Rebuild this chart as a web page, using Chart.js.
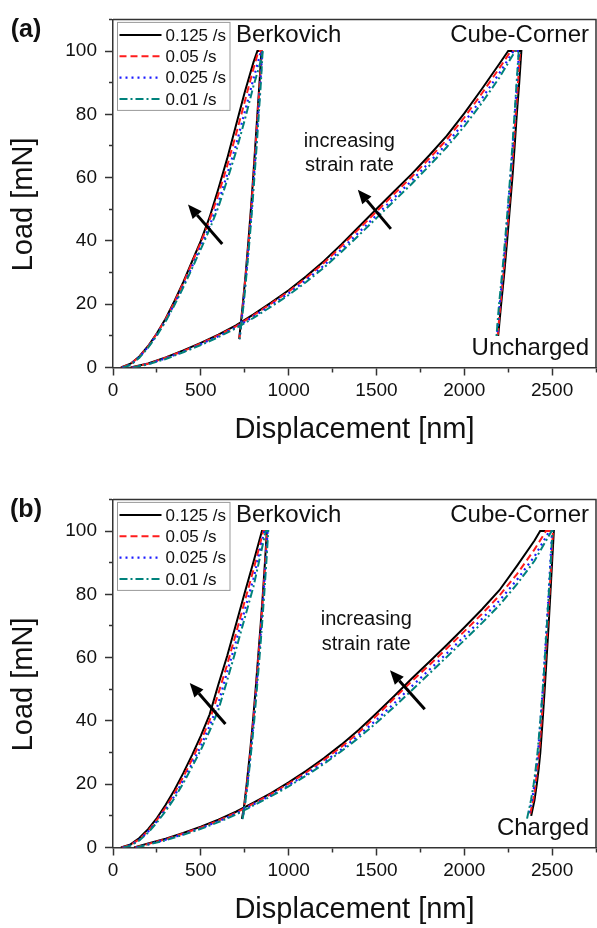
<!DOCTYPE html>
<html>
<head>
<meta charset="utf-8">
<script src="https://cdn.jsdelivr.net/npm/chart.js@4.4.1/dist/chart.umd.min.js"></script>
<style>
  html, body { margin: 0; padding: 0; background: #fff; overflow: hidden; }
  #wrap { position: relative; width: 597px; height: 928px; overflow: hidden; }
  canvas { position: absolute; left: 0; }
  #chartA { top: 0; }
  #chartB { top: 480px; }
</style>
</head>
<body>
<div id="wrap">
  <canvas id="chartA" width="600" height="480"></canvas>
  <canvas id="chartB" width="600" height="448"></canvas>
</div>
<script>
// strain rates (legend entries)
const rates = ['0.125 /s', '0.05 /s', '0.025 /s', '0.01 /s'];
const xTicks = [0, 500, 1000, 1500, 2000, 2500];
const yTicks = [0, 20, 40, 60, 80, 100];

// (a) uncharged - Berkovich [displacement nm, load mN]
const aBerk125 = [[45,0],[100,1.2],[150,3.5],[200,6.8],[250,10.8],[300,15.5],[350,21],[400,27],[450,33.5],[500,40],[550,47.5],[600,56.5],[650,66],[700,76.5],[750,87],[800,96.5],[822,100],[845,100],[834,90],[822,80],[810,70],[798,60],[785,50],[771,40],[756,30],[739,20],[726,13],[718,9]];
const aBerk05 = [[48,0],[100,1.1],[150,3.4],[200,6.7],[250,10.7],[300,15.3],[350,20.7],[400,26.6],[450,33.1],[500,39.5],[550,46.6],[600,54.7],[650,63.7],[700,73.6],[750,84],[800,94.5],[828,100],[847,100],[836,90],[824,80],[812,70],[800,60],[787,50],[773,40],[757,30],[740,20],[727,13],[719,9]];
const aBerk025 = [[52,0],[100,0.9],[150,3.3],[200,6.5],[250,10.4],[300,14.8],[350,20.1],[400,25.8],[450,31.9],[500,38.2],[550,44.8],[600,52.2],[650,61],[700,70.2],[750,80.7],[800,91.3],[843,100],[850,100],[839,90],[827,80],[815,70],[802,60],[789,50],[775,40],[759,30],[742,20],[728,13],[720,9]];
const aBerk01 = [[56,0],[100,0.8],[150,3.1],[200,6.3],[250,10.1],[300,14.6],[350,19.7],[400,25.3],[450,31.3],[500,37.4],[550,43.7],[600,50.7],[650,59.2],[700,68.1],[750,78.2],[800,89],[840,96.5],[852,100],[842,90],[830,80],[818,70],[805,60],[792,50],[777,40],[761,30],[744,20],[729,13],[721,9]];

// (a) uncharged - Cube-Corner
const aCube125 = [[100,0],[200,1.3],[300,3.2],[400,5.4],[500,7.8],[600,10.4],[700,13.3],[800,16.8],[900,20.5],[1000,24.4],[1100,28.8],[1200,33.6],[1300,38.9],[1400,44.5],[1500,50.1],[1600,55.6],[1700,61.1],[1800,67],[1900,73.2],[2000,80.3],[2100,88],[2200,96],[2250,100],[2325,100],[2313,90],[2299,80],[2287,70],[2274,60],[2259,50],[2244,40],[2228,30],[2210,20],[2193,10]];
const aCube05 = [[105,0],[200,1.2],[300,3.1],[400,5.2],[500,7.6],[600,10.2],[700,13],[800,16.5],[900,20.2],[1000,24],[1100,28.3],[1200,33],[1300,38.3],[1400,43.8],[1500,49.3],[1600,54.8],[1700,60.2],[1800,66],[1900,72],[2000,79],[2100,86.6],[2200,94.6],[2265,100],[2318,100],[2306,90],[2293,80],[2281,70],[2268,60],[2254,50],[2239,40],[2223,30],[2206,20],[2190,10]];
const aCube025 = [[110,0],[200,1.1],[300,2.9],[400,5],[500,7.4],[600,9.9],[700,12.7],[800,16.1],[900,19.7],[1000,23.4],[1100,27.6],[1200,32.2],[1300,37.3],[1400,42.7],[1500,48.1],[1600,53.6],[1700,59],[1800,64.8],[1900,70.7],[2000,77.5],[2100,85],[2200,93],[2280,100],[2312,100],[2300,90],[2288,80],[2276,70],[2263,60],[2249,50],[2235,40],[2219,30],[2202,20],[2186,10]];
const aCube01 = [[115,0],[200,1],[300,2.7],[400,4.8],[500,7.1],[600,9.6],[700,12.4],[800,15.7],[900,19.2],[1000,22.9],[1100,27],[1200,31.5],[1300,36.5],[1400,41.8],[1500,47.2],[1600,52.6],[1700,58],[1800,63.7],[1900,69.6],[2000,76.2],[2100,83.6],[2200,91.6],[2290,100],[2310,100],[2298,90],[2286,80],[2274,70],[2261,60],[2247,50],[2232,40],[2216,30],[2198,20],[2182,9]];

// (b) charged - Berkovich
const bBerk125 = [[45,0],[100,1],[150,3],[200,5.8],[250,9.3],[300,13.5],[350,18.2],[400,23.5],[450,29.2],[500,35.3],[550,42],[600,51.5],[650,60.5],[700,70.5],[750,80.5],[800,90.3],[848,100],[876,100],[865,90],[853,80],[840,70],[826,60],[812,50],[797,40],[780,30],[761,20],[746,13],[734,9]];
const bBerk05 = [[50,0],[100,0.8],[150,2.6],[200,5.3],[250,8.7],[300,12.7],[350,17.2],[400,22.3],[450,27.8],[500,33.7],[550,40.2],[600,48.7],[650,57.8],[700,67.6],[750,77.8],[800,87.8],[856,100],[878,100],[867,90],[855,80],[842,70],[828,60],[814,50],[799,40],[782,30],[763,20],[748,13],[736,9]];
const bBerk025 = [[55,0],[100,0.7],[150,2.4],[200,5],[250,8.3],[300,12],[350,16.3],[400,21.2],[450,26.5],[500,32],[550,38.4],[600,45.5],[650,55.5],[700,65],[750,75],[800,85],[862,100],[880,100],[869,90],[857,80],[844,70],[830,60],[816,50],[801,40],[784,30],[765,20],[749,13],[737,9]];
const bBerk01 = [[60,0],[100,0.6],[150,2.2],[200,4.7],[250,7.9],[300,11.5],[350,15.6],[400,20.3],[450,25.5],[500,30.8],[550,36.8],[600,43.5],[650,52.8],[700,62.5],[750,72.5],[800,82.5],[870,100],[884,100],[873,90],[861,80],[848,70],[834,60],[819,50],[804,40],[786,30],[767,20],[750,13],[738,9]];

// (b) charged - Cube-Corner
const bCube125 = [[120,0],[200,1.3],[300,2.8],[400,4.6],[500,6.6],[600,8.8],[700,11.3],[800,14.2],[900,17.2],[1000,20.6],[1100,24.2],[1200,28.2],[1300,32.5],[1400,37.2],[1500,42.4],[1600,47.8],[1700,53.3],[1800,58.6],[1900,64],[2000,69.5],[2100,75.2],[2200,81.3],[2300,89],[2400,97],[2432,100],[2510,100],[2500,90],[2490,80],[2480,70],[2469,60],[2458,50],[2446,40],[2433,30],[2424,25],[2413,20],[2400,15],[2381,10]];
const bCube05 = [[125,0],[200,1.1],[300,2.6],[400,4.4],[500,6.3],[600,8.5],[700,11],[800,13.9],[900,16.9],[1000,20.2],[1100,23.7],[1200,27.6],[1300,31.8],[1400,36.4],[1500,41.6],[1600,47.1],[1700,52.5],[1800,57.6],[1900,62.9],[2000,68.3],[2100,73.8],[2200,79.6],[2300,86.4],[2400,94.2],[2465,100],[2505,100],[2495,90],[2485,80],[2474,70],[2463,60],[2452,50],[2440,40],[2426,30],[2417,25],[2406,20],[2393,15],[2373,10]];
const bCube025 = [[130,0],[200,1],[300,2.5],[400,4.2],[500,6.1],[600,8.3],[700,10.7],[800,13.6],[900,16.5],[1000,19.7],[1100,23.1],[1200,26.9],[1300,31],[1400,35.5],[1500,40.3],[1600,45.5],[1700,50.9],[1800,56.1],[1900,61.3],[2000,66.7],[2100,72.2],[2200,78],[2300,84.6],[2400,92],[2485,100],[2500,100],[2490,90],[2480,80],[2469,70],[2458,60],[2447,50],[2434,40],[2420,30],[2411,25],[2400,20],[2386,15],[2365,10]];
const bCube01 = [[135,0],[200,0.9],[300,2.3],[400,4],[500,5.9],[600,8],[700,10.4],[800,13.3],[900,16.2],[1000,19.3],[1100,22.7],[1200,26.4],[1300,30.4],[1400,34.7],[1500,39.4],[1600,44.4],[1700,49.6],[1800,54.9],[1900,60.2],[2000,65.5],[2100,70.9],[2200,76.6],[2300,83.2],[2400,90.6],[2497,100],[2502,100],[2492,90],[2481,80],[2470,70],[2459,60],[2447,50],[2433,40],[2417,30],[2407,25],[2395,20],[2380,15],[2357,9]];

const FONT = "'Liberation Sans', Arial, Helvetica, sans-serif";

// line style for each strain rate
const styles = [
    { color: '#000000', dash: [], width: 2 },
    { color: '#ff1c1c', dash: [7, 4], width: 2 },
    { color: '#1c1cff', dash: [2, 4], width: 2.2 },
    { color: '#00827c', dash: [8, 3, 2, 3], width: 2 }
];

Chart.defaults.font.family = FONT;
Chart.defaults.color = '#111';

function buildDatasets(berk, cube) {
    const sets = [];
    rates.forEach((rate, i) => {
        [berk[i], cube[i]].forEach(curve => {
            sets.push({
                label: rate,
                data: curve,
                showLine: true,
                borderColor: styles[i].color,
                borderDash: styles[i].dash,
                borderWidth: styles[i].width,
                pointRadius: 0,
                fill: false,
                tension: 0,
                order: 4 - i
            });
        });
    });
    return sets;
}

function drawArrow(ctx, x0, y0, x1, y1) {
    const ang = Math.atan2(y1 - y0, x1 - x0);
    const len = 14, half = 6;
    const bx = x1 - len * Math.cos(ang), by = y1 - len * Math.sin(ang);
    ctx.lineWidth = 3;
    ctx.beginPath();
    ctx.moveTo(x0, y0);
    ctx.lineTo(bx, by);
    ctx.stroke();
    ctx.beginPath();
    ctx.moveTo(x1, y1);
    ctx.lineTo(bx + half * Math.sin(ang), by - half * Math.cos(ang));
    ctx.lineTo(bx - half * Math.sin(ang), by + half * Math.cos(ang));
    ctx.closePath();
    ctx.fill();
}

// frame, legend, labels and arrows on top of the plot
function makeDecor(panel) {
    return {
        id: 'decor',
        afterDraw(chart) {
            const { ctx, chartArea: a, scales: { x, y } } = chart;
            ctx.save();

            // top / right frame
            ctx.strokeStyle = '#333';
            ctx.lineWidth = 1.5;
            ctx.beginPath();
            ctx.moveTo(a.left, a.top);
            ctx.lineTo(a.right, a.top);
            ctx.lineTo(a.right, a.bottom);
            ctx.stroke();

            // legend box
            const lx = a.left + 4.5, ly = a.top + 3;
            ctx.fillStyle = '#fff';
            ctx.fillRect(lx, ly, 112.5, 88);
            ctx.strokeStyle = '#999';
            ctx.lineWidth = 1;
            ctx.strokeRect(lx, ly, 112.5, 88);
            ctx.font = '17px ' + FONT;
            ctx.textAlign = 'left';
            ctx.textBaseline = 'middle';
            rates.forEach((rate, i) => {
                const ry = ly + 12.5 + i * 21.4;
                ctx.strokeStyle = styles[i].color;
                ctx.lineWidth = styles[i].width;
                ctx.setLineDash(styles[i].dash);
                ctx.beginPath();
                ctx.moveTo(lx + 2, ry);
                ctx.lineTo(lx + 44, ry);
                ctx.stroke();
                ctx.setLineDash([]);
                ctx.fillStyle = '#111';
                ctx.fillText(rate, lx + 48, ry + 1);
            });

            // indenter names and sample state
            ctx.fillStyle = '#111';
            ctx.font = '24px ' + FONT;
            ctx.textAlign = 'left';
            ctx.fillText('Berkovich', x.getPixelForValue(700), y.getPixelForValue(105));
            ctx.textAlign = 'right';
            ctx.fillText('Cube-Corner', x.getPixelForValue(2710), y.getPixelForValue(105));
            ctx.fillText(panel.sample, x.getPixelForValue(2710), y.getPixelForValue(6.2));

            ctx.font = '20px ' + FONT;
            ctx.textAlign = 'center';
            ctx.fillText('increasing', x.getPixelForValue(panel.incX), y.getPixelForValue(panel.incY[0]));
            ctx.fillText('strain rate', x.getPixelForValue(panel.incX), y.getPixelForValue(panel.incY[1]));

            // arrows
            ctx.strokeStyle = '#000';
            ctx.fillStyle = '#000';
            panel.arrows.forEach(ar => {
                drawArrow(ctx, x.getPixelForValue(ar[0]), y.getPixelForValue(ar[1]),
                    x.getPixelForValue(ar[2]), y.getPixelForValue(ar[3]));
            });

            // axis titles
            ctx.fillStyle = '#111';
            ctx.font = '29px ' + FONT;
            ctx.textAlign = 'center';
            ctx.fillText('Displacement [nm]', (a.left + a.right) / 2, a.bottom + 62);
            ctx.save();
            ctx.translate(a.left - 89, (a.top + a.bottom) / 2 + 11);
            ctx.rotate(-Math.PI / 2);
            ctx.fillText('Load [mN]', 0, 0);
            ctx.restore();

            // panel tag
            ctx.font = 'bold 25px ' + FONT;
            ctx.fillText(panel.tag, a.left - 87, a.top + 11);

            ctx.restore();
        }
    };
}

function makeChart(canvasId, berk, cube, panel) {
    const canvas = document.getElementById(canvasId);
    const xAxisHeight = canvas.height - 367.5;
    return new Chart(canvas, {
        type: 'scatter',
        data: { datasets: buildDatasets(berk, cube) },
        options: {
            responsive: false,
            animation: false,
            events: [],
            layout: { padding: { top: 11, left: 0, right: 0, bottom: 0 } },
            plugins: { legend: { display: false }, tooltip: { enabled: false } },
            scales: {
                x: {
                    type: 'linear',
                    min: 0,
                    max: 2750,
                    afterFit: s => { s.height = xAxisHeight; },
                    border: { display: true, color: '#333', width: 1.5 },
                    grid: {
                        drawOnChartArea: false,
                        drawTicks: true,
                        tickLength: 8,
                        tickColor: '#333',
                        tickWidth: 1.5,
                        tickBorderDash: c => (c.tick && xTicks.includes(c.tick.value)) ? [] : [4, 20]
                    },
                    ticks: {
                        stepSize: 250,
                        autoSkip: false,
                        maxRotation: 0,
                        minRotation: 0,
                        padding: 4,
                        font: { size: 19 },
                        callback: v => xTicks.includes(v) ? v : ''
                    }
                },
                y: {
                    type: 'linear',
                    min: 0,
                    max: 110,
                    afterFit: s => { s.width = 113; },
                    border: { display: true, color: '#333', width: 1.5 },
                    grid: {
                        drawOnChartArea: false,
                        drawTicks: true,
                        tickLength: 8,
                        tickColor: '#333',
                        tickWidth: 1.5,
                        tickBorderDash: c => (c.tick && yTicks.includes(c.tick.value)) ? [] : [0, 4, 4, 20]
                    },
                    ticks: {
                        stepSize: 10,
                        autoSkip: false,
                        padding: 8,
                        font: { size: 19 },
                        callback: v => yTicks.includes(v) ? v : ''
                    }
                }
            }
        },
        plugins: [makeDecor(panel)]
    });
}

makeChart('chartA',
    [aBerk125, aBerk05, aBerk025, aBerk01],
    [aCube125, aCube05, aCube025, aCube01],
    { tag: '(a)', sample: 'Uncharged', incX: 1346, incY: [71.5, 63.8],
      arrows: [[622, 39, 427, 51.5], [1582, 43.8, 1394, 56.2]] });

makeChart('chartB',
    [bBerk125, bBerk05, bBerk025, bBerk01],
    [bCube125, bCube05, bCube025, bCube01],
    { tag: '(b)', sample: 'Charged', incX: 1442, incY: [72, 64.3],
      arrows: [[640, 39, 437, 52], [1775, 43.7, 1577, 56]] });
</script>
</body>
</html>
